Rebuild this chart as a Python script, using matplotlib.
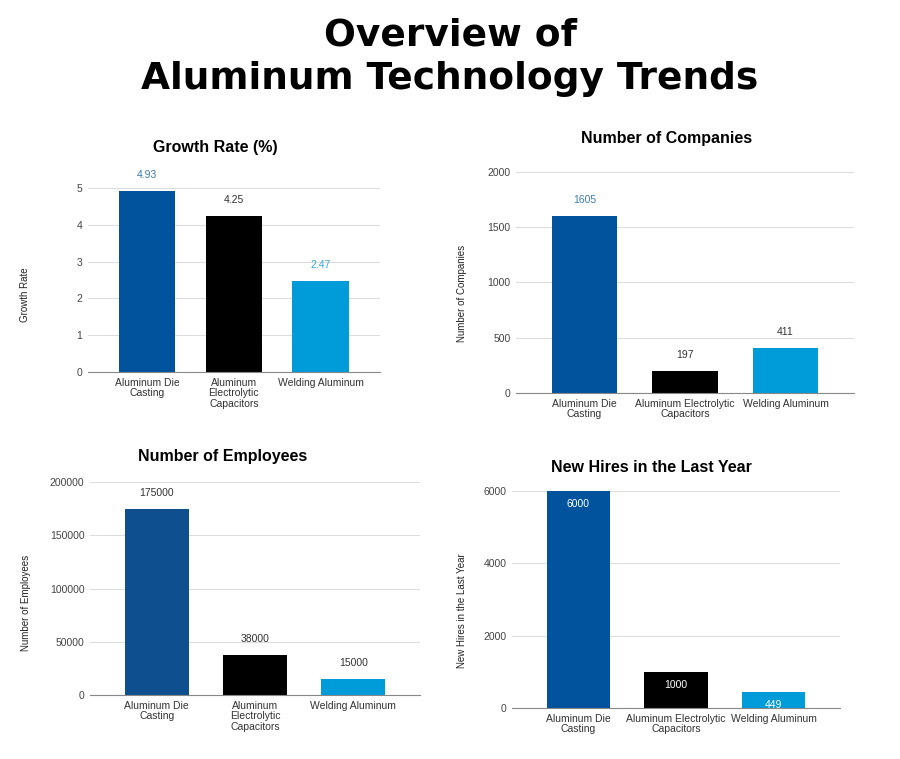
import matplotlib
matplotlib.use("Agg")
import matplotlib.pyplot as plt

plt.rcParams['font.family'] = ['Liberation Sans', 'DejaVu Sans']

# данные
categories_3 = ["Aluminum Die\nCasting", "Aluminum\nElectrolytic\nCapacitors", "Welding Aluminum"]
categories_2 = ["Aluminum Die\nCasting", "Aluminum Electrolytic\nCapacitors", "Welding Aluminum"]

growth_rate = [4.93, 4.25, 2.47]
companies = [1605, 197, 411]
employees = [175000, 38000, 15000]
new_hires = [6000, 1000, 449]

growth_ticks = [0, 1, 2, 3, 4, 5]
companies_ticks = [0, 500, 1000, 1500, 2000]
employees_ticks = [0, 50000, 100000, 150000, 200000]
hires_ticks = [0, 2000, 4000, 6000]

growth_labels = ["4.93", "4.25", "2.47"]
companies_labels = ["1605", "197", "411"]
employees_labels = ["175000", "38000", "15000"]
hires_labels = ["6000", "1000", "449"]

BLUE = "#00539c"
BLACK = "#000000"
LIGHT = "#009bd9"


def draw(ax, cats, vals, ticks, labels, title, ylabel, colors, lab_colors,
         inside=False, ylab_xy=(-0.18, 0.45), title_xy=(0.43, 1.1)):
    x = range(len(vals))
    ax.bar(x, vals, width=0.65, color=colors, zorder=3)
    ax.set_xlim(-0.68, 2.68)
    ax.set_ylim(ticks[0], ticks[-1])
    ax.set_yticks(ticks)
    ax.set_yticklabels([str(t) for t in ticks], fontsize=7.5, color="#444444")
    ax.set_xticks(list(x))
    ax.set_xticklabels(cats, fontsize=7.5, color="#333333", linespacing=1.1)
    ax.tick_params(length=0, pad=4)
    ax.grid(axis="y", color="#dddddd", linewidth=0.8, zorder=0)
    for s in ["top", "right", "left"]:
        ax.spines[s].set_visible(False)
    ax.spines["bottom"].set_color("#888888")
    ax.spines["bottom"].set_zorder(4)
    ax.set_ylabel(ylabel, fontsize=7, color="#222222")
    ax.yaxis.set_label_coords(*ylab_xy)
    ax.text(title_xy[0], title_xy[1], title, transform=ax.transAxes, ha="center", va="center",
            fontsize=11.5, fontweight="bold")
    for i, v in enumerate(vals):
        if inside:
            ax.annotate(labels[i], (i, v), xytext=(0, -6), textcoords="offset points",
                        ha="center", va="top", fontsize=7.5, color="white", zorder=5)
        else:
            ax.annotate(labels[i], (i, v), xytext=(0, 11.5), textcoords="offset points",
                        ha="center", va="center", fontsize=7.5, color=lab_colors[i],
                        annotation_clip=False)


fig = plt.figure(figsize=(9, 7.59), dpi=100)

fig.text(0.5, 0.953, "Overview of", ha="center", va="center", fontsize=27,
         fontweight="bold", family=["DejaVu Sans"])
fig.text(0.5, 0.896, "Aluminum Technology Trends", ha="center", va="center", fontsize=27,
         fontweight="bold", family=["DejaVu Sans"])

ax1 = fig.add_axes([0.0978, 0.5099, 0.324, 0.2424])
draw(ax1, categories_3, growth_rate, growth_ticks, growth_labels, "Growth Rate (%)", "Growth Rate",
     [BLUE, BLACK, LIGHT], ["#3d7bb5", "#333333", "#3aa8de"], ylab_xy=(-0.2, 0.42),
     title_xy=(0.435, 1.22))

ax2 = fig.add_axes([0.5733, 0.4822, 0.3756, 0.2912])
draw(ax2, categories_2, companies, companies_ticks, companies_labels, "Number of Companies",
     "Number of Companies", [BLUE, BLACK, LIGHT], ["#3d7bb5", "#333333", "#333333"],
     ylab_xy=(-0.145, 0.45), title_xy=(0.446, 1.15))

ax3 = fig.add_axes([0.1, 0.0843, 0.3667, 0.2806])
draw(ax3, categories_3, employees, employees_ticks, employees_labels, "Number of Employees",
     "Number of Employees", ["#0d4f8f", BLACK, LIGHT], ["#333333", "#333333", "#333333"],
     ylab_xy=(-0.18, 0.43), title_xy=(0.403, 1.12))

ax4 = fig.add_axes([0.5689, 0.0672, 0.3644, 0.2859])
draw(ax4, categories_2, new_hires, hires_ticks, hires_labels, "New Hires in the Last Year",
     "New Hires in the Last Year", [BLUE, BLACK, LIGHT], ["white"] * 3, inside=True,
     ylab_xy=(-0.137, 0.45), title_xy=(0.426, 1.11))

fig.savefig("out.png", dpi=100, facecolor="white")
